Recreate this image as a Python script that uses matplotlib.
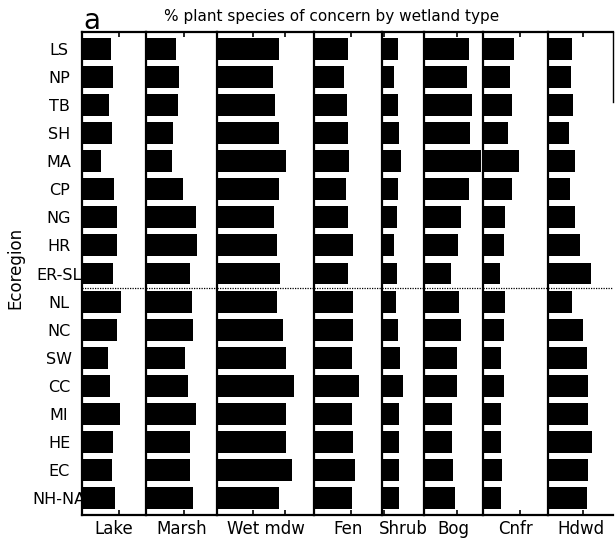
import matplotlib
matplotlib.use("Agg")
import matplotlib.pyplot as plt

ecoregions = ["LS", "NP", "TB", "SH", "MA", "CP", "NG", "HR", "ER-SL",
              "NL", "NC", "SW", "CC", "MI", "HE", "EC", "NH-NA"]
wetland_types = ["Lake", "Marsh", "Wet mdw", "Fen", "Shrub", "Bog", "Cnfr", "Hdwd"]

# relative bar lengths (common scale)
lake = [29, 31, 27, 30, 19, 32, 35, 35, 31, 39, 35, 26, 28, 38, 31, 30, 33]
marsh = [30, 33, 32, 27, 26, 37, 50, 51, 44, 46, 47, 39, 42, 50, 44, 44, 47]
wet_mdw = [62, 56, 58, 62, 69, 62, 57, 60, 63, 60, 66, 69, 77, 69, 69, 75, 62]
fen = [34, 30, 33, 34, 35, 32, 34, 39, 34, 39, 39, 38, 45, 38, 39, 41, 38]
shrub = [16, 12, 16, 17, 19, 16, 15, 12, 15, 14, 16, 18, 21, 17, 17, 17, 17]
bog = [45, 43, 48, 46, 57, 45, 37, 34, 27, 35, 37, 33, 33, 28, 28, 29, 31]
cnfr = [31, 27, 29, 25, 36, 29, 22, 21, 17, 22, 21, 18, 21, 18, 18, 19, 18]
hdwd = [24, 23, 25, 21, 27, 22, 27, 32, 43, 24, 35, 39, 40, 40, 44, 40, 39]

series = [lake, marsh, wet_mdw, fen, shrub, bog, cnfr, hdwd]
panel_max = [64, 71, 97, 68, 42, 59, 65, 65]
panel_ticks = [[37], [38], [36, 68], [37], [2], [33], [37], [35]]

fig = plt.figure(figsize=(6.15, 5.42), dpi=100)
gs = fig.add_gridspec(1, len(series), width_ratios=panel_max, wspace=0,
                      left=82 / 615, right=613 / 615,
                      top=1 - 32 / 542, bottom=1 - 515 / 542)

ypos = list(range(len(ecoregions)))
axes = []
for i, (name, vals) in enumerate(zip(wetland_types, series)):
    ax = fig.add_subplot(gs[0, i], sharey=axes[0] if axes else None)
    axes.append(ax)
    ax.barh(ypos, vals, height=0.78, color="black", left=0)
    ax.set_xlim(0, panel_max[i])
    ax.set_ylim(len(ecoregions) - 0.4, -0.6)
    ax.axhline(8.5, color="black", lw=0.9, ls=(0, (1, 1)))
    ax.set_xticks(panel_ticks[i])
    ax.tick_params(axis="x", direction="in", length=3.5, width=1.2,
                   top=True, bottom=True, labelbottom=False)
    ax.set_xlabel(name, fontsize=12, labelpad=3.5)
    for s in ["left", "top", "bottom"]:
        ax.spines[s].set_linewidth(1.6)
    ax.spines["right"].set_visible(False)
    if i == 0:
        ax.set_yticks(ypos)
        ax.set_yticklabels(ecoregions, fontsize=11.5, ha="center")
        ax.tick_params(axis="y", length=0, pad=16.5)
    else:
        ax.tick_params(axis="y", left=False, labelleft=False)

last = axes[-1]
last.spines["right"].set_visible(True)
last.spines["right"].set_linewidth(1.0)
last.spines["right"].set_bounds(-0.6, 1.9)

fig.text(15 / 615, 1 - 268 / 542, "Ecoregion", rotation=90, fontsize=12,
         ha="center", va="center")
fig.text(332 / 615, 1 - 16 / 542, "% plant species of concern by wetland type",
         fontsize=11, ha="center", va="center")
fig.text(83 / 615, 1 - 29 / 542, "a", fontsize=20, ha="left", va="baseline")

fig.savefig("out.png", dpi=100)
